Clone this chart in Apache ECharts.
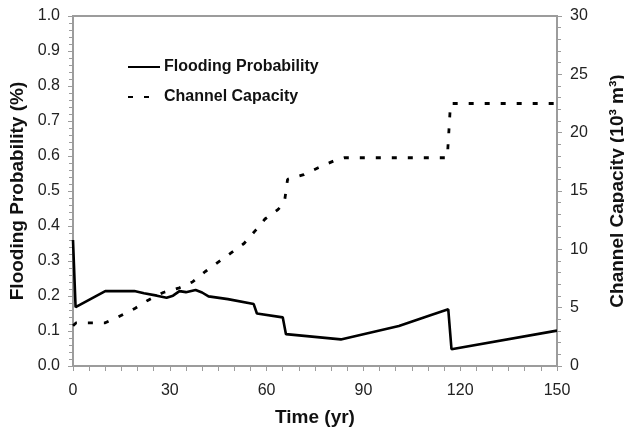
<!DOCTYPE html>
<html>
<head>
<meta charset="utf-8">
<script src="https://cdn.jsdelivr.net/npm/echarts@6/dist/echarts.min.js"></script>
<style>
  html, body { margin: 0; padding: 0; background: #fff; }
  #chart { width: 624px; height: 431px; }
</style>
</head>
<body>
<div id="chart"></div>
<script>
// Flooding probability (%) over time: [year, value]
const floodingProbability = [
  [0, 0.36], [0.8, 0.168], [10, 0.214], [19, 0.214], [22, 0.208], [26, 0.201],
  [29, 0.195], [31, 0.201], [33, 0.214], [35, 0.211], [38, 0.217], [40, 0.21],
  [42, 0.199], [48, 0.191], [56, 0.177], [57, 0.15], [65, 0.139], [66, 0.091],
  [83, 0.076], [101, 0.114], [111, 0.146], [116.3, 0.162], [117.3, 0.048], [150, 0.101]
];

// Channel capacity (10^3 m^3) over time: [year, value]
const channelCapacity = [
  [0, 3.45], [1, 3.7], [10, 3.7], [14, 4.2], [19, 4.9], [23, 5.6], [28, 6.3],
  [33, 6.7], [37, 7.2], [41, 8.1], [45, 8.9], [49, 9.7], [53, 10.5], [56.5, 11.6],
  [59.5, 12.6], [63.5, 13.4], [65.5, 14.0], [66.5, 16.0], [71.5, 16.4], [76, 17.0],
  [81, 17.6], [84, 17.85], [116, 17.85], [117, 22.5], [150, 22.5]
];

// Axis ranges and tick spacing
const timeTicks = { min: 0, max: 150, interval: 30 };
const probTicks = { min: 0, max: 1, interval: 0.1 };
const capTicks = { min: 0, max: 30, interval: 5 };

const FONT = '"Liberation Sans", Arial, sans-serif';
const AXIS_GREY = '#9c9c9c';

const chart = echarts.init(document.getElementById('chart'), null, { renderer: 'canvas' });

chart.setOption({
  animation: false,
  backgroundColor: '#fff',
  grid: {
    left: 73, right: 67, top: 16, bottom: 65,
    containLabel: false, outerBoundsMode: 'none',
    show: true, borderColor: AXIS_GREY, borderWidth: 2
  },
  legend: {
    orient: 'vertical',
    left: 127, top: 59, padding: 0,
    itemWidth: 32, itemHeight: 14, itemGap: 14,
    itemStyle: { opacity: 0 },
    textStyle: { fontFamily: FONT, fontSize: 16, fontWeight: 'bold', color: '#111', padding: [0, 0, 0, -1] },
    data: ['Flooding Probability', 'Channel Capacity']
  },
  xAxis: {
    type: 'value',
    min: timeTicks.min, max: timeTicks.max, interval: timeTicks.interval,
    name: 'Time (yr)',
    nameLocation: 'middle', nameGap: 42,
    nameTextStyle: { fontFamily: FONT, fontSize: 19, fontWeight: 'bold', color: '#111' },
    axisLine: { lineStyle: { color: AXIS_GREY, width: 2 } },
    axisTick: { length: 5, lineStyle: { color: AXIS_GREY, width: 1 } },
    minorTick: { show: true, splitNumber: 6, length: 5, lineStyle: { color: AXIS_GREY, width: 1 } },
    axisLabel: { fontFamily: FONT, fontSize: 16, color: '#222', margin: 17 },
    splitLine: { show: false }
  },
  yAxis: [
    {
      type: 'value',
      position: 'left',
      min: probTicks.min, max: probTicks.max, interval: probTicks.interval,
      name: 'Flooding Probability (%)',
      nameLocation: 'middle', nameGap: 45,
      nameTextStyle: { fontFamily: FONT, fontSize: 19, fontWeight: 'bold', color: '#111' },
      axisLine: { show: true, lineStyle: { color: AXIS_GREY, width: 2 } },
      axisTick: { show: true, length: 5, lineStyle: { color: AXIS_GREY, width: 1 } },
      minorTick: { show: true, splitNumber: 5, length: 4, lineStyle: { color: AXIS_GREY, width: 1 } },
      axisLabel: { fontFamily: FONT, fontSize: 16, color: '#222', margin: 13,
                   formatter: v => v.toFixed(1) },
      splitLine: { show: false }
    },
    {
      type: 'value',
      position: 'right',
      min: capTicks.min, max: capTicks.max, interval: capTicks.interval,
      name: 'Channel Capacity (10³ m³)',
      nameLocation: 'middle', nameGap: 51, nameRotate: 90,
      nameTextStyle: { fontFamily: FONT, fontSize: 19, fontWeight: 'bold', color: '#111' },
      axisLine: { show: true, lineStyle: { color: AXIS_GREY, width: 2 } },
      axisTick: { show: true, length: 5, lineStyle: { color: AXIS_GREY, width: 1 } },
      minorTick: { show: true, splitNumber: 5, length: 4, lineStyle: { color: AXIS_GREY, width: 1 } },
      axisLabel: { fontFamily: FONT, fontSize: 16, color: '#222', margin: 13 },
      splitLine: { show: false }
    }
  ],
  series: [
    {
      name: 'Flooding Probability',
      type: 'line',
      yAxisIndex: 0,
      data: floodingProbability,
      symbol: 'none',
      color: '#000',
      lineStyle: { color: '#000', width: 2.6 }
    },
    {
      name: 'Channel Capacity',
      type: 'line',
      yAxisIndex: 1,
      data: channelCapacity,
      symbol: 'none',
      color: '#000',
      lineStyle: { color: '#000', width: 2.8, type: [5, 11] }
    }
  ]
});
</script>
</body>
</html>
